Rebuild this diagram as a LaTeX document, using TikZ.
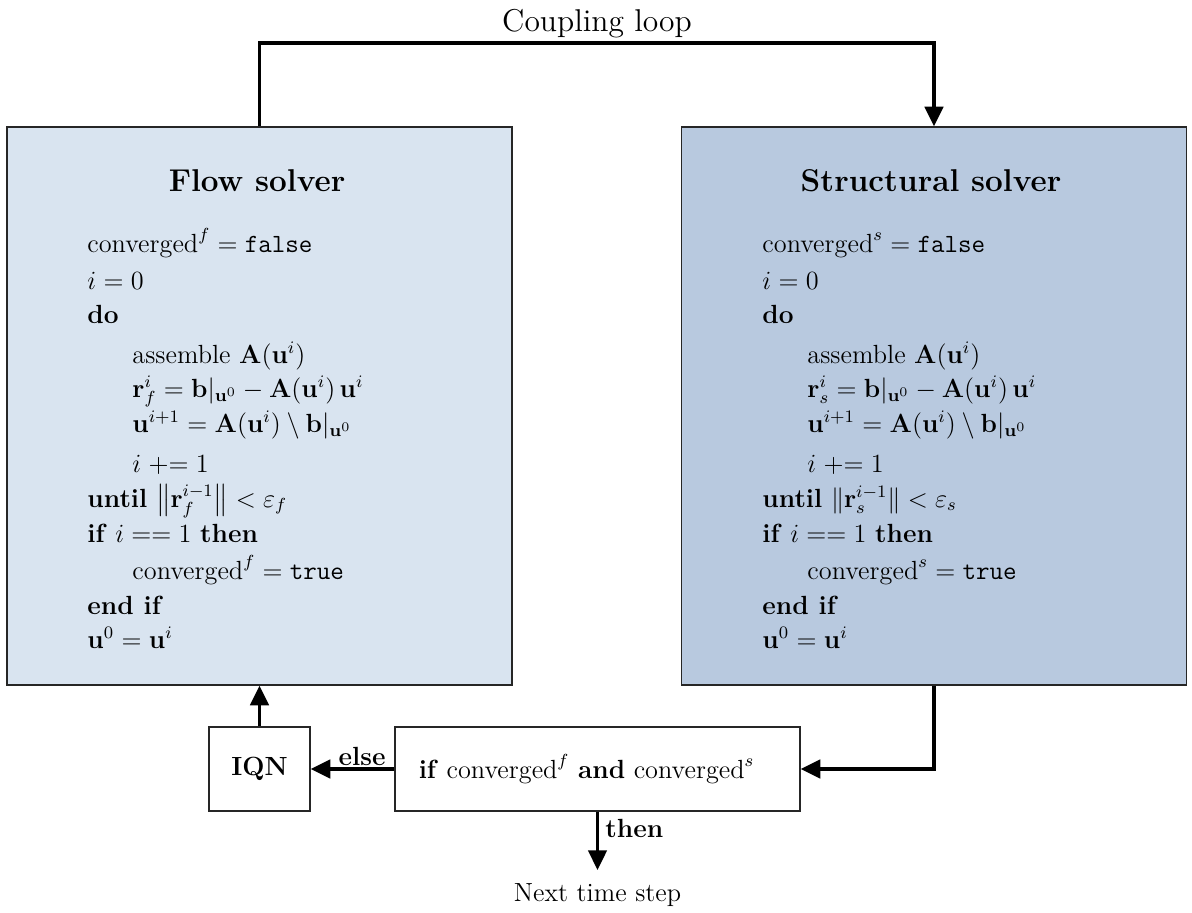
\documentclass[tikz,border=0pt]{standalone}
\usepackage{amsmath}
\usetikzlibrary{arrows.meta}
\definecolor{flowfill}{RGB}{217,228,240}
\definecolor{structfill}{RGB}{184,201,223}
\def\pxu{0.4566pt}
\tikzset{
  solverbox/.style={draw=black!85, line width=0.6pt, inner sep=0pt, minimum width=505*\pxu, minimum height=558*\pxu},
  plainbox/.style={draw=black!85, line width=0.6pt, inner sep=0pt, font=\large},
  conn/.style={line width=1.6pt},
  tipconn/.style={line width=1.6pt, -{Triangle[length=9pt,width=8.4pt]}},
  alg/.style={anchor=base west, inner sep=0pt, font=\large},
  ttl/.style={anchor=base, inner sep=0pt, font=\Large\bfseries},
  lbl/.style={inner sep=0pt, font=\large\bfseries}
}
\begin{document}
\begin{tikzpicture}[x=0.4566pt, y=-0.4566pt]
\useasboundingbox (0,0) rectangle (1192,912);

% boxes
\node[solverbox, fill=flowfill] (fbox) at (259.5,406) {};
\node[solverbox, fill=structfill] (sbox) at (934,406) {};
\node[plainbox, minimum width=101*\pxu, minimum height=84*\pxu] (iqn) at (259.5,769) {\textbf{IQN}};
\node[plainbox, minimum width=405*\pxu, minimum height=84*\pxu] (dec) at (597.5,769)
  {\textbf{if} $\text{converged}^f$ \textbf{and} $\text{converged}^s$\hspace*{10pt}};

% titles
\node[anchor=base, inner sep=0pt, font=\Large] (cl) at (597,31) {Coupling loop};
\node[ttl] (ft) at (257,191) {Flow solver};
\node[ttl] (st) at (931,191) {Structural solver};

% flow solver algorithm
\node[alg] (f1)  at (87,252) {$\text{converged}^f = \texttt{false}$};
\node[alg] (f2)  at (87,289) {$i = 0$};
\node[alg] (f3)  at (87,323) {\textbf{do}};
\node[alg] (f4)  at (132,363) {assemble $\mathbf{A}(\mathbf{u}^i)$};
\node[alg] (f5)  at (132,397) {$\mathbf{r}_f^i = \mathbf{b}|_{\mathbf{u}^0} - \mathbf{A}(\mathbf{u}^i)\,\mathbf{u}^i$};
\node[alg] (f6)  at (132,432) {$\mathbf{u}^{i+1} = \mathbf{A}(\mathbf{u}^i) \setminus \mathbf{b}|_{\mathbf{u}^0}$};
\node[alg] (f7)  at (132,472) {$i \mathrel{+}= 1$};
\node[alg] (f8)  at (87,507) {\textbf{until} $\left\|\mathbf{r}_f^{i-1}\right\| < \varepsilon_f$};
\node[alg] (f9)  at (87,542) {\textbf{if} $i == 1$ \textbf{then}};
\node[alg] (f10) at (132,579) {$\text{converged}^f = \texttt{true}$};
\node[alg] (f11) at (87,614) {\textbf{end if}};
\node[alg] (f12) at (87,648) {$\mathbf{u}^0 = \mathbf{u}^i$};

% structural solver algorithm
\node[alg] (s1)  at (762,252) {$\text{converged}^s = \texttt{false}$};
\node[alg] (s2)  at (762,289) {$i = 0$};
\node[alg] (s3)  at (762,323) {\textbf{do}};
\node[alg] (s4)  at (807,363) {assemble $\mathbf{A}(\mathbf{u}^i)$};
\node[alg] (s5)  at (807,397) {$\mathbf{r}_s^i = \mathbf{b}|_{\mathbf{u}^0} - \mathbf{A}(\mathbf{u}^i)\,\mathbf{u}^i$};
\node[alg] (s6)  at (807,432) {$\mathbf{u}^{i+1} = \mathbf{A}(\mathbf{u}^i) \setminus \mathbf{b}|_{\mathbf{u}^0}$};
\node[alg] (s7)  at (807,472) {$i \mathrel{+}= 1$};
\node[alg] (s8)  at (762,507) {\textbf{until} $\|\mathbf{r}_s^{i-1}\| < \varepsilon_s$};
\node[alg] (s9)  at (762,542) {\textbf{if} $i == 1$ \textbf{then}};
\node[alg] (s10) at (807,579) {$\text{converged}^s = \texttt{true}$};
\node[alg] (s11) at (762,614) {\textbf{end if}};
\node[alg] (s12) at (762,648) {$\mathbf{u}^0 = \mathbf{u}^i$};

% connectors
\coordinate (ctop) at (597,43);
\draw[tipconn] (fbox.north) -- (fbox.north |- ctop) -- (sbox.north |- ctop) -- (sbox.north);
\draw[tipconn] (sbox.south) |- (dec.east);
\draw[tipconn] (dec.west) -- (iqn.east);
\draw[tipconn] (iqn.north) -- (fbox.south);
\coordinate (nextend) at (597.5,870);
\draw[tipconn] (dec.south) -- (nextend);

% labels
\node[lbl, anchor=base east] (elsel) at (386,765) {else};
\node[lbl, anchor=base west] (thenl) at (605,837) {then};
\node[anchor=base, inner sep=0pt, font=\large] (next) at (597.5,901) {Next time step};
\end{tikzpicture}
\end{document}
